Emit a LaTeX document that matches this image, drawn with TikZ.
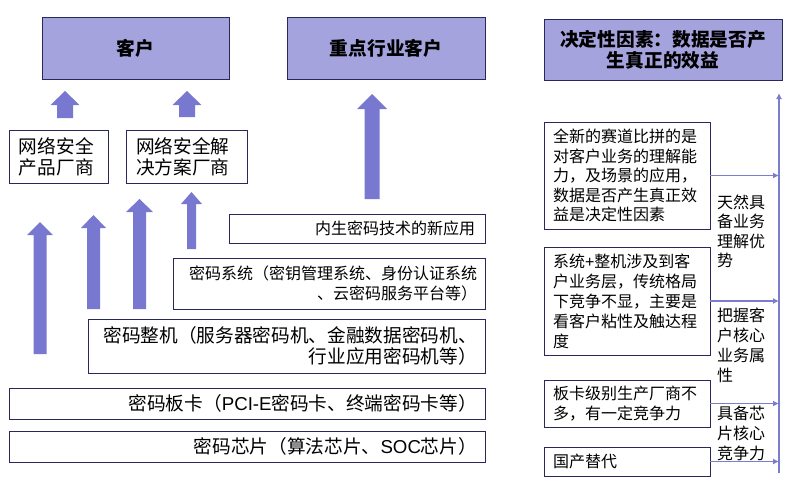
\documentclass[tikz,border=0pt]{standalone}
\usepackage{fontspec}
\setmainfont{Noto Sans CJK SC}
\newfontfamily\latinf{Liberation Sans}
\usetikzlibrary{arrows.meta}
\definecolor{lav}{RGB}{165,163,222}
\definecolor{arrfill}{RGB}{120,120,208}
\definecolor{rlinec}{RGB}{125,125,205}
\definecolor{bordc}{RGB}{40,40,90}
\newcommand\blkarrow[6]{%
  \fill[arrfill] (#1-#4,#3) -- (#1-#4,#2+#6) -- (#1-#5,#2+#6) -- (#1,#2)
    -- (#1+#5,#2+#6) -- (#1+#4,#2+#6) -- (#1+#4,#3) -- cycle;}
\begin{document}
\begin{tikzpicture}[x=1pt,y=-1pt,
  box/.style={draw=bordc,line width=0.9pt,fill=white,inner ysep=0pt,inner xsep=8pt,
    font=\fontsize{16}{19.5}\selectfont},
  bigbox/.style={box,font=\fontsize{18.67}{21}\selectfont},
  titlebox/.style={draw=bordc,line width=0.9pt,fill=lav,inner sep=0pt,align=center,
    font=\fontsize{18.67}{21}\selectfont\bfseries},
  rline/.style={draw=rlinec,line width=1.8pt},
  rarrow/.style={rline,-{Latex[length=6pt,width=6pt]}},
  lab/.style={inner sep=0pt,anchor=west,align=left,font=\fontsize{16}{19.5}\selectfont}]
\useasboundingbox (0,0) rectangle (795,488);
% title boxes
\node[titlebox,minimum width=187pt,minimum height=62pt] (kehu) at (135.5,48) {客户};
\node[titlebox,minimum width=198pt,minimum height=62pt] (zdhy) at (386,48) {重点行业客户};
\node[titlebox,minimum width=238pt,minimum height=61pt] (jd) at (663,49.5) {决定性因素：数据是否产\\生真正的效益};
% small boxes
\node[bigbox,inner xsep=10pt,text width=79pt,minimum height=53pt,align=left] (wlcp) at (58.5,156.5) {网络安全\\产品厂商};
\node[bigbox,inner xsep=10pt,text width=101pt,minimum height=53pt,align=left] (wljj) at (186.5,156.5) {网络安全解\\决方案厂商};
% layered boxes
\node[box,inner xsep=10pt,text width=236pt,minimum height=29pt,align=right] (nsmm) at (357,228.5) {内生密码技术的新应用};
\node[box,text width=296pt,minimum height=51pt,align=right] (mmxt) at (329,283.5) {密码系统（密钥管理系统、身份认证系统\\、云密码服务平台等）};
\node[bigbox,text width=381pt,minimum height=54pt,align=right] (mmzj) at (286.5,346) {密码整机（服务器密码机、金融数据密码机、\\行业应用密码机等）};
\node[bigbox,text width=460pt,minimum height=31pt,align=right] (mmbk) at (247,403.5) {密码板卡（{\latinf PCI-E}密码卡、终端密码卡等）};
\node[bigbox,text width=460pt,minimum height=31pt,align=right] (mmxp) at (247,446.5) {密码芯片（算法芯片、{\latinf SOC}芯片）};
% block arrows
\blkarrow{65}{91}{118}{8}{14.5}{14}
\blkarrow{187}{91}{117}{8}{14.5}{14}
\blkarrow{372}{94}{199}{7.5}{15}{15}
\blkarrow{40}{222}{354}{6.5}{13}{13}
\blkarrow{93.5}{215}{309}{6.5}{12.5}{13}
\blkarrow{139.5}{199}{309}{6.5}{13.5}{13}
\blkarrow{191.5}{192}{249}{4.5}{10.5}{12}
% right column
\node[box,inner xsep=9pt,text width=148pt,minimum height=107pt,align=left] (ra) at (627,175.5) {全新的赛道比拼的是\\对客户业务的理解能\\力，及场景的应用，\\数据是否产生真正效\\益是决定性因素};
\node[box,inner xsep=9pt,text width=148pt,minimum height=108pt,align=left,font=\fontsize{16}{20}\selectfont] (rb) at (627,301) {系统{\latinf +}整机涉及到客\\户业务层，传统格局\\下竞争不显，主要是\\看客户粘性及触达程\\度};
\node[box,inner xsep=9pt,text width=148pt,minimum height=47pt,align=left] (rc) at (627,403.5) {板卡级别生产厂商不\\多，有一定竞争力};
\node[box,inner xsep=9pt,text width=148pt,minimum height=29pt,align=left] (rd) at (627,461.5) {国产替代};
\coordinate (vtop) at (779,93);
\coordinate (vbot) at (779,473);
\draw[rarrow] (vbot) -- (vtop);
\draw[rarrow] (ra.east) -- (ra.east -| vtop);
\draw[rarrow] (rb.east) -- (rb.east -| vtop);
\draw[rarrow] (rc.east) -- (rc.east -| vtop);
\draw[rarrow] (rd.east) -- (rd.east -| vtop);
\node[lab] (l1) at (717,231.5) {天然具\\备业务\\理解优\\势};
\node[lab,font=\fontsize{16}{20}\selectfont] (l2) at (717,345) {把握客\\户核心\\业务属\\性};
\node[lab,font=\fontsize{16}{20}\selectfont] (l3) at (717,433) {具备芯\\片核心\\竞争力};
\end{tikzpicture}
\end{document}
